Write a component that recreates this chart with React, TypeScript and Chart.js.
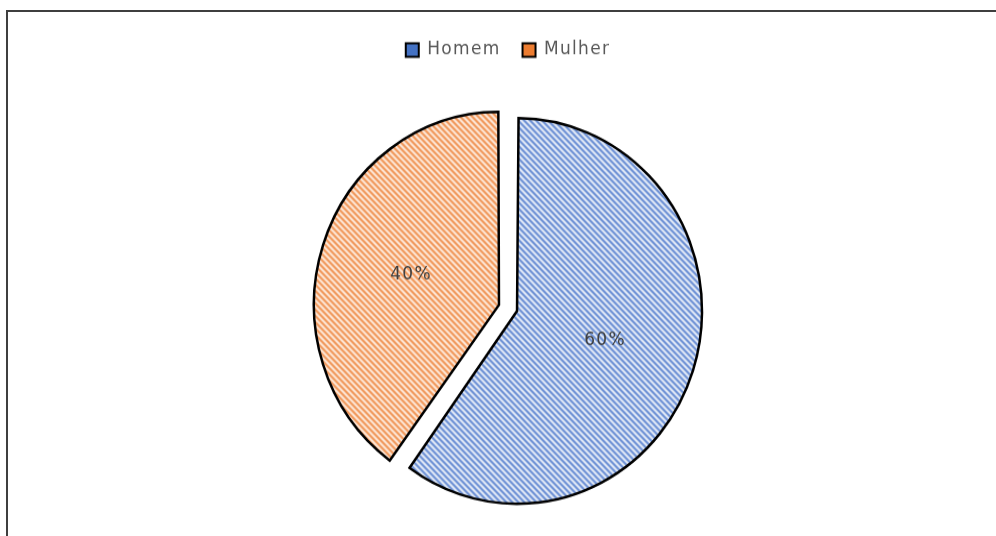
import React, { useEffect, useRef } from "react";
import { Chart, registerables } from "chart.js";

Chart.register(...registerables);

// ---- data ----
const categories = ["Homem", "Mulher"];
const values = [60, 40];
const percentLabels = ["60%", "40%"];

// ---- style ----
const solidColors = ["#4472C4", "#ED7D31"];
const stripeDark = ["#7093d6", "#f19a5e"];
const stripeLight = ["#e0e8f6", "#fde5d4"];

const SCALE_Y = 1.043;
const CANVAS_W = 996;
const CANVAS_H = 540;
const PIE_R = 185;
const SHIFT = 9.5;

function hexToRgb(h: string) {
  const n = parseInt(h.slice(1), 16);
  return [(n >> 16) & 255, (n >> 8) & 255, n & 255];
}

function makePattern(dark: string, light: string) {
  const t = document.createElement("canvas");
  t.width = 6;
  t.height = 6;
  const c = t.getContext("2d")!;
  const d = hexToRgb(dark);
  const l = hexToRgb(light);
  const m = d.map((v, i) => Math.round((v + l[i]) / 2));
  const img = c.createImageData(6, 6);
  for (let y = 0; y < 6; y++) {
    for (let x = 0; x < 6; x++) {
      const k = (((x - y) % 6) + 6) % 6;
      const col = k === 0 || k === 1 ? d : k === 2 || k === 5 ? m : l;
      const p = (y * 6 + x) * 4;
      img.data[p] = col[0];
      img.data[p + 1] = col[1];
      img.data[p + 2] = col[2];
      img.data[p + 3] = 255;
    }
  }
  c.putImageData(img, 0, 0);
  return c.createPattern(t, "repeat");
}

const spacingPlugin = {
  id: "letterSpacing",
  beforeUpdate(chart: any) {
    (chart.ctx as any).letterSpacing = "1.3px";
  },
  beforeDraw(chart: any) {
    (chart.ctx as any).letterSpacing = "1.3px";
  },
};

// Chart.js enlarges exploded arcs by (offset/4)*fix; compensate so every slice keeps PIE_R
const radiusFixPlugin = {
  id: "radiusFix",
  afterDatasetUpdate(chart: any, args: any) {
    const meta = args.meta;
    meta.data.forEach((arc: any) => {
      const circ = arc.endAngle - arc.startAngle;
      const fix = 1 - Math.sin(Math.min(Math.PI, circ));
      arc.outerRadius = PIE_R - SHIFT * fix;
    });
  },
};

const labelPlugin = {
  id: "pctLabels",
  afterDatasetsDraw(chart: any) {
    const meta = chart.getDatasetMeta(0);
    const ctx = chart.ctx;
    ctx.save();
    ctx.font = "17px 'DejaVu Sans'";
    ctx.fillStyle = "#404040";
    ctx.textAlign = "center";
    ctx.textBaseline = "middle";
    meta.data.forEach((arc: any, i: number) => {
      const a = (arc.startAngle + arc.endAngle) / 2;
      const dist = SHIFT + PIE_R / 2;
      ctx.fillText(percentLabels[i], arc.x + Math.cos(a) * dist, arc.y + Math.sin(a) * dist);
    });
    ctx.restore();
  },
};

export default function App() {
  const ref = useRef<HTMLCanvasElement>(null);

  useEffect(() => {
    const canvas = ref.current!;
    const patterns = values.map((_, i) => makePattern(stripeDark[i], stripeLight[i]));

    const chart = new Chart(canvas, {
      type: "pie",
      data: {
        labels: categories,
        datasets: [
          {
            data: values,
            backgroundColor: patterns as any,
            borderColor: "#000000",
            borderWidth: 2.5,
            borderJoinStyle: "miter",
            offset: SHIFT * 4,
          } as any,
        ],
      },
      options: {
        responsive: false,
        animation: false,
        devicePixelRatio: 1,
        radius: PIE_R,
        layout: { padding: { left: 20, right: 0, top: 17.5, bottom: 15.9 } },
        plugins: {
          tooltip: { enabled: false },
          legend: {
            display: true,
            position: "top",
            labels: {
              boxWidth: 13,
              boxHeight: 13,
              padding: 22,
              color: "#595959",
              font: { family: "'DejaVu Sans'", size: 17 },
              generateLabels: () =>
                categories.map((c, i) => ({
                  text: c,
                  fillStyle: solidColors[i],
                  strokeStyle: "#000000",
                  lineWidth: 2,
                  hidden: false,
                  index: i,
                  fontColor: "#595959",
                })),
            },
          },
        },
      } as any,
      plugins: [spacingPlugin, radiusFixPlugin, labelPlugin],
    });
    return () => chart.destroy();
  }, []);

  return (
    <div
      style={{
        position: "fixed",
        left: 0,
        top: 0,
        width: 996,
        height: 536,
        overflow: "hidden",
        background: "#ffffff",
      }}
    >
      <canvas
        ref={ref}
        width={CANVAS_W}
        height={CANVAS_H}
        style={{
          position: "absolute",
          left: 0,
          top: 0,
          width: CANVAS_W + "px",
          height: CANVAS_H * SCALE_Y + "px",
        }}
      />
      <div
        style={{
          position: "absolute",
          left: 6,
          top: 10,
          width: 990,
          height: 526,
          borderLeft: "2px solid #3f3f3f",
          borderTop: "2px solid #3f3f3f",
          boxSizing: "border-box",
          pointerEvents: "none",
        }}
      />
    </div>
  );
}
